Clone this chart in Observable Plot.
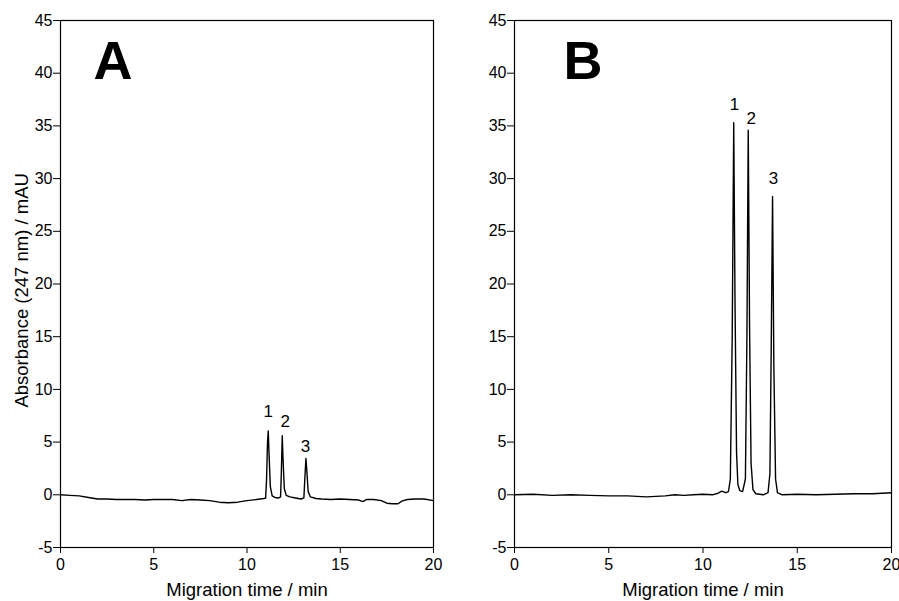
<!DOCTYPE html>
<html><head><meta charset="utf-8">
<script src="https://cdn.jsdelivr.net/npm/d3@7"></script>
<script src="https://cdn.jsdelivr.net/npm/@observablehq/plot@0.6"></script>
<style>
body{margin:0;background:#fff;}
#wrap{position:relative;width:899px;height:601px;background:#fff;}
#a{position:absolute;left:0;top:0}
#b{position:absolute;left:454px;top:0}
</style></head><body><div id="wrap"><div id="a"></div><div id="b"></div></div>
<script>
// Panel A electropherogram
const timeA = [0,0.5,1.0,1.5,2.0,2.5,3,3.5,4,4.5,5,5.5,6,6.5,7,7.5,8,8.5,9,9.5,10,10.5,10.9,11.0,11.05,11.1,11.14,11.18,11.25,11.35,11.5,11.7,11.8,11.84,11.89,11.93,12.0,12.1,12.3,12.6,12.9,13.05,13.1,13.16,13.2,13.28,13.4,13.7,14,14.5,15,15.5,16,16.2,16.4,16.8,17.2,17.5,17.8,18.1,18.3,18.6,19,19.5,20];
const absA = [0,-0.05,-0.1,-0.25,-0.4,-0.4,-0.45,-0.45,-0.45,-0.5,-0.45,-0.45,-0.45,-0.55,-0.45,-0.5,-0.55,-0.7,-0.75,-0.7,-0.55,-0.45,-0.35,-0.3,1.5,5,6.05,4,0.8,-0.1,-0.25,-0.3,-0.2,2,5.6,3.5,0.6,-0.05,-0.2,-0.3,-0.4,-0.3,1.5,3.45,2.5,0.3,-0.2,-0.35,-0.4,-0.45,-0.4,-0.45,-0.5,-0.65,-0.45,-0.45,-0.55,-0.8,-0.85,-0.85,-0.6,-0.45,-0.4,-0.4,-0.55];
// Panel B electropherogram
const timeB = [0,1,2,3,4,5,6,7,7.5,8,8.5,9,9.5,10,10.5,10.8,11.0,11.2,11.35,11.45,11.55,11.63,11.7,11.78,11.85,11.95,12.1,12.25,12.33,12.4,12.47,12.55,12.65,12.8,13.2,13.45,13.55,13.62,13.69,13.76,13.85,13.95,14.2,15,16,17,18,19,20];
const absB = [0,0.05,-0.05,0,-0.05,-0.1,-0.1,-0.2,-0.15,-0.1,0,-0.05,0,0.05,0,0.15,0.35,0.2,0.3,1.5,15,35.3,18,4,1,0.4,0.3,1.5,15,34.6,16,3,0.5,0.1,0,0.2,2,14,28.3,12,1.5,0.2,0,0.05,0,0.05,0.1,0.1,0.2];
// Peak labels
const peakLabels = ["1","2","3"];
const peakLabelTimeA = [11.14,12.05,13.14];
const peakLabelAbsA = [7.4,6.4,4.1];
const peakLabelTimeB = [11.67,12.56,13.74];
const peakLabelAbsB = [36.5,35.2,29.5];
// Axes
const xTicks = [0,5,10,15,20];
const yTicks = [-5,0,5,10,15,20,25,30,35,40,45];
const xTitle = "Migration time / min";
const yTitle = "Absorbance (247 nm) / mAU";

const FONT = "'Liberation Sans', Arial, sans-serif";

function panel({time, abs, letter, letterDx, labTime, labAbs, width, marginRight, showYTitle}) {
  const series = time.map((t, i) => ({t, v: abs[i]}));
  const labels = peakLabels.map((s, i) => ({s, t: labTime[i], v: labAbs[i]}));
  const marks = [
    Plot.axisX({ticks: xTicks, tickSize: 6, tickPadding: 5, fontSize: 16, label: null, tickFormat: d => String(d)}),
    Plot.axisY({ticks: yTicks, tickSize: 7, tickPadding: 1, fontSize: 16, label: null, tickFormat: d => String(d)}),
    Plot.frame({stroke: "#000", strokeWidth: 1.2}),
    Plot.line(series, {x: "t", y: "v", stroke: "#000", strokeWidth: 1.4}),
    Plot.text([letter], {frameAnchor: "top-left", text: d => d, dx: letterDx, dy: 20, fontSize: 54, fontWeight: "bold", textAnchor: "start", lineAnchor: "top"}),
    Plot.text(labels, {x: "t", y: "v", text: "s", fontSize: 17, lineAnchor: "bottom"}),
    Plot.text([xTitle], {frameAnchor: "bottom", text: d => d, dy: 48, fontSize: 18.5, lineAnchor: "bottom"})
  ];
  if (showYTitle) {
    marks.push(Plot.text([yTitle], {x: () => 0, y: () => 19.4, text: d => d, rotate: -90, dx: -38, fontSize: 18.5, lineAnchor: "middle"}));
  }
  return Plot.plot({
    width, height: 601,
    marginLeft: 60, marginRight, marginTop: 20, marginBottom: 54,
    style: {fontFamily: FONT, fontSize: "16px", color: "#000", background: "#fff", overflow: "visible"},
    x: {domain: [0, 20], axis: null},
    y: {domain: [-5, 45], axis: null},
    marks
  });
}

document.getElementById("a").appendChild(panel({time: timeA, abs: absA, letter: "A", letterDx: 33, labTime: peakLabelTimeA, labAbs: peakLabelAbsA, width: 450, marginRight: 17, showYTitle: true}));
document.getElementById("b").appendChild(panel({time: timeB, abs: absB, letter: "B", letterDx: 49, labTime: peakLabelTimeB, labAbs: peakLabelAbsB, width: 445, marginRight: 8, showYTitle: false}));
</script></body></html>
